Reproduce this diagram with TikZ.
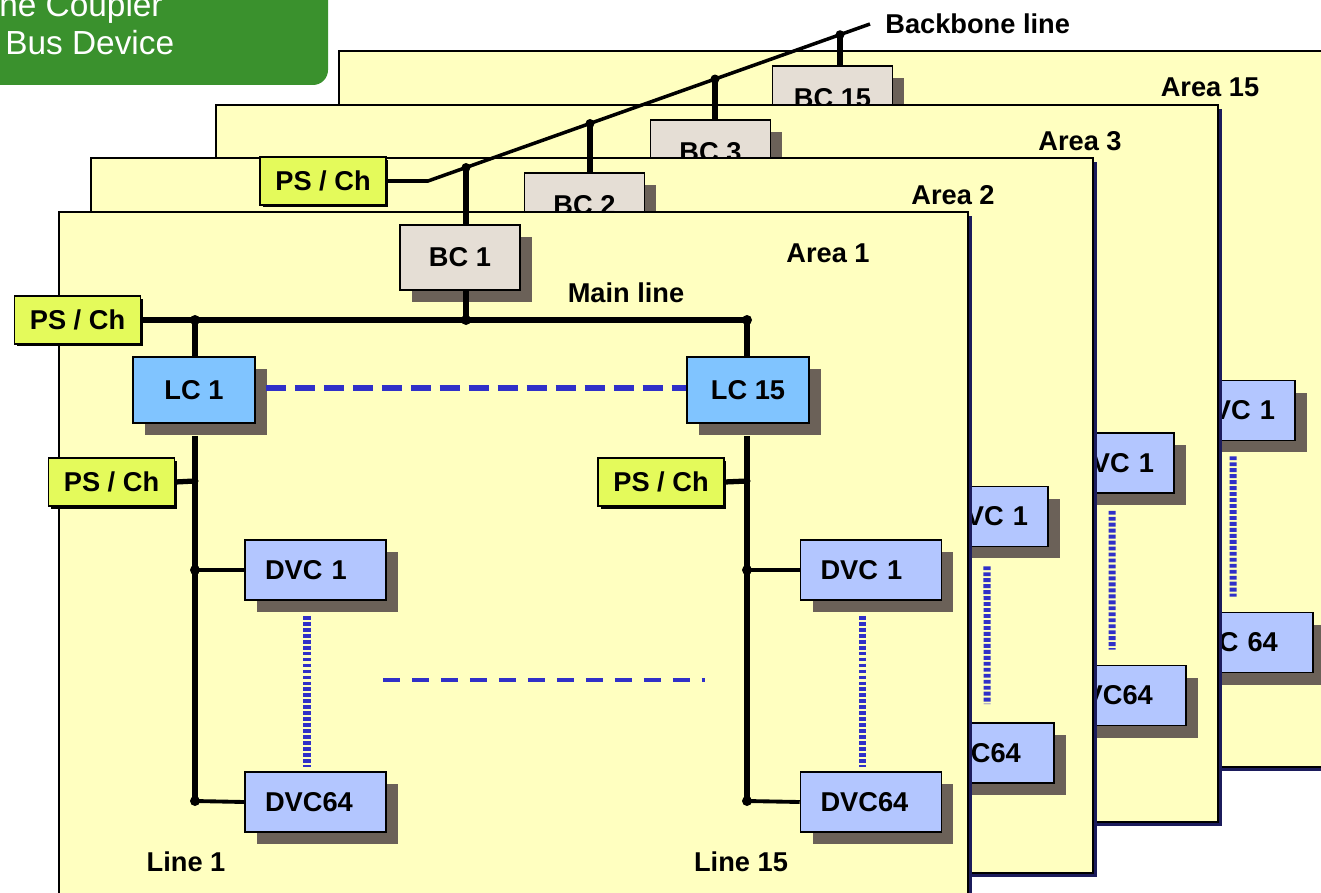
\documentclass[tikz,border=0pt]{standalone}
\usepackage{fontspec}
\setmainfont{Liberation Sans}
\usetikzlibrary{shadows,calc}
\definecolor{PageYellow}{HTML}{FFFFC0}
\definecolor{PageShade}{HTML}{1C1C5C}
\definecolor{BoxShade}{HTML}{6B6158}
\definecolor{BCGray}{HTML}{E5DED5}
\definecolor{LCBlue}{HTML}{80C4FF}
\definecolor{DVCBlue}{HTML}{B3C6FF}
\definecolor{PSLime}{HTML}{E4FA5B}
\definecolor{DashBlue}{HTML}{3030C8}
\definecolor{LegendGreen}{HTML}{3A912D}

\begin{document}
\begin{tikzpicture}[x=0.02cm,y=-0.02cm,font=\bfseries\fontsize{15.5}{18}\selectfont,
  page/.style={fill=PageYellow,draw=black,line width=.8pt},
  pageshade/.style={fill=PageShade},
  box/.style={draw=black,line width=.9pt,inner sep=0pt,
    drop shadow={shadow xshift=.24cm,shadow yshift=-.24cm,fill=BoxShade,opacity=1}},
  bcbox/.style={box,fill=BCGray,minimum width=2.4cm,minimum height=1.3cm},
  lcbox/.style={box,fill=LCBlue,minimum width=2.44cm,minimum height=1.32cm},
  dvcbox/.style={box,fill=DVCBlue,minimum width=2.82cm,minimum height=1.2cm,text width=2.02cm,align=left},
  psbox/.style={draw=black,line width=.9pt,inner sep=0pt,fill=PSLime,minimum width=2.52cm,minimum height=.96cm,
    drop shadow={shadow xshift=.05cm,shadow yshift=-.05cm,fill=black,opacity=1}},
  legend/.style={anchor=base west,inner sep=0pt,text=white,font=\mdseries\fontsize{19}{22}\selectfont},
  bus/.style={line width=3pt},
  branch/.style={line width=2.2pt},
  backbone/.style={line width=2pt},
  lcdash/.style={DashBlue,line width=3pt,dash pattern=on .4cm off .18cm},
  linedash/.style={DashBlue,line width=2.4pt,dash pattern=on .34cm off .24cm},
  dvcdots/.style={DashBlue,line width=4pt,dash pattern=on 2.2pt off 1.2pt}]
\useasboundingbox (0,0) rectangle (1321,892);
\clip (0,0) rectangle (1321,892);
% legend, cut off
\fill[LegendGreen,rounded corners=.3cm] (-40,-40) rectangle (328,85);
\node[legend] (leg1) at (-1,17) {ne Coupler};
\node[legend] (leg2) at (5,55) {Bus Device};

% Area 15
\fill[pageshade] (343,55) rectangle (1345,771);
\filldraw[page] (339,51) rectangle (1341,767);
\node (a15) at (1210,87) {Area 15};
\node[bcbox] (bc15) at (832.5,98.5) {BC 15};
\node[dvcbox,align=right] (dvc15a) at (1224.5,410.5) {DVC 1};
\node[dvcbox,text width=2.46cm] (dvc15b) at (1242.5,642.5) {DVC 64};
\draw[dvcdots] ([xshift=.17cm,yshift=-.3cm]dvc15a.south) -- ([xshift=-.19cm,yshift=.3cm]dvc15b.north);

% Area 3
\fill[pageshade] (220,109) rectangle (1222,826);
\filldraw[page] (216,105) rectangle (1218,822);
\node (a3) at (1080,141) {Area 3};
\node[bcbox] (bc3) at (710.5,152.5) {BC 3};
\node[dvcbox,align=right] (dvc3a) at (1103.5,463) {DVC 1};
\node[dvcbox] (dvc3b) at (1115.5,695.5) {DVC64};
\draw[dvcdots] ([xshift=.17cm,yshift=-.34cm]dvc3a.south) -- ([xshift=-.07cm,yshift=.3cm]dvc3b.north);

% Area 2
\fill[pageshade] (95,162) rectangle (1097,877);
\filldraw[page] (91,158) rectangle (1093,873);
\node (a2) at (953,195) {Area 2};
\node[bcbox] (bc2) at (584.5,205.5) {BC 2};
\node[dvcbox,align=right] (dvc2a) at (977.5,516.5) {DVC 1};
\node[dvcbox] (dvc2b) at (983.5,753) {DVC64};
\draw[dvcdots] ([xshift=.19cm,yshift=-.38cm]dvc2a.south) -- ([xshift=.07cm,yshift=.36cm]dvc2b.north);

% Area 1
\fill[pageshade] (63,216) rectangle (972,920);
\filldraw[page] (59,212) rectangle (968,916);
\node (a1) at (828,253) {Area 1};
\node (mainl) at (626,293) {Main line};
\node (line1) at (186,862) {Line 1};
\node (line15) at (741,862) {Line 15};
\node[bcbox] (bc1) at (460,257.5) {BC 1};
\node[psbox] (psmain) at (77.5,320) {PS / Ch};
\node[lcbox] (lc1) at (194,390) {LC 1};
\node[lcbox] (lc15) at (748,390) {LC 15};
\node[psbox] (ps1) at (111.5,482) {PS / Ch};
\node[psbox] (ps15) at (661,482) {PS / Ch};
\node[dvcbox] (d1a) at (315.5,570) {DVC 1};
\node[dvcbox] (d1b) at (315.5,802) {DVC64};
\node[dvcbox] (d15a) at (871,570) {DVC 1};
\node[dvcbox] (d15b) at (871,802) {DVC64};
\coordinate (j1) at (195,320);
\coordinate (jbc) at (466,320);
\coordinate (j15) at (747,320);
\coordinate (l1p) at (195,481);
\coordinate (l1a) at (195,570);
\coordinate (l1b) at (195,801);
\coordinate (l15p) at (747,481);
\coordinate (l15a) at (747,570);
\coordinate (l15b) at (747,801);
\coordinate (m1) at (383,680);
\coordinate (m2) at (705,680);
% main line
\draw[bus] (psmain.east) -- (j15) -- (j15 |- lc15.north);
\draw[bus] (j1) -- (j1 |- lc1.north);
\draw[bus] (jbc) -- (jbc |- bc1.south);
% lines 1 and 15
\draw[bus] ([yshift=-.24cm]lc1.south -| l1b) -- (l1b);
\draw[bus] ([yshift=-.24cm]lc15.south -| l15b) -- (l15b);
\draw[bus] (ps1.east) -- (l1p);
\draw[bus] (ps15.east) -- (l15p);
\draw[branch] (l1a) -- (d1a.west);
\draw[branch] (l1b) -- (d1b.west);
\draw[branch] (l15a) -- (d15a.west);
\draw[branch] (l15b) -- (d15b.west);
\foreach \p in {j1,jbc,j15,l1a,l1b,l15a,l15b} \fill (\p) circle[radius=.1cm];
\foreach \p in {l1p,l15p} \fill (\p) circle[radius=.07cm];
% dashes and dots
\draw[lcdash] ([xshift=.2cm,yshift=.04cm]lc1.east) -- ([yshift=.04cm]lc15.west);
\draw[linedash] (m1) -- (m2);
\draw[dvcdots] ([xshift=-.17cm,yshift=-.3cm]d1a.south) -- ([xshift=-.17cm,yshift=.08cm]d1b.north);
\draw[dvcdots] ([xshift=-.18cm,yshift=-.3cm]d15a.south) -- ([xshift=-.18cm,yshift=.08cm]d15b.north);

% backbone line
\node[psbox] (pstop) at (323,181) {PS / Ch};
\node[anchor=west,inner sep=0pt] (bbl) at (885,24) {Backbone line};
\coordinate (bbk) at (428,181);
\coordinate (bbe) at (870,24);
\coordinate (bb1) at (466,167.5);
\coordinate (bb2) at (590,123.5);
\coordinate (bb3) at (715,79);
\coordinate (bb15) at (840,34.7);
\draw[backbone] (pstop.east) -- (bbk) -- (bbe);
\draw[bus] (bb1) -- (bb1 |- bc1.north);
\draw[bus] (bb2) -- (bb2 |- bc2.north);
\draw[bus] (bb3) -- (bb3 |- bc3.north);
\draw[bus] (bb15) -- (bb15 |- bc15.north);
\foreach \p in {bb1,bb2,bb3,bb15} \fill (\p) circle[radius=.09cm];
\end{tikzpicture}
\end{document}
